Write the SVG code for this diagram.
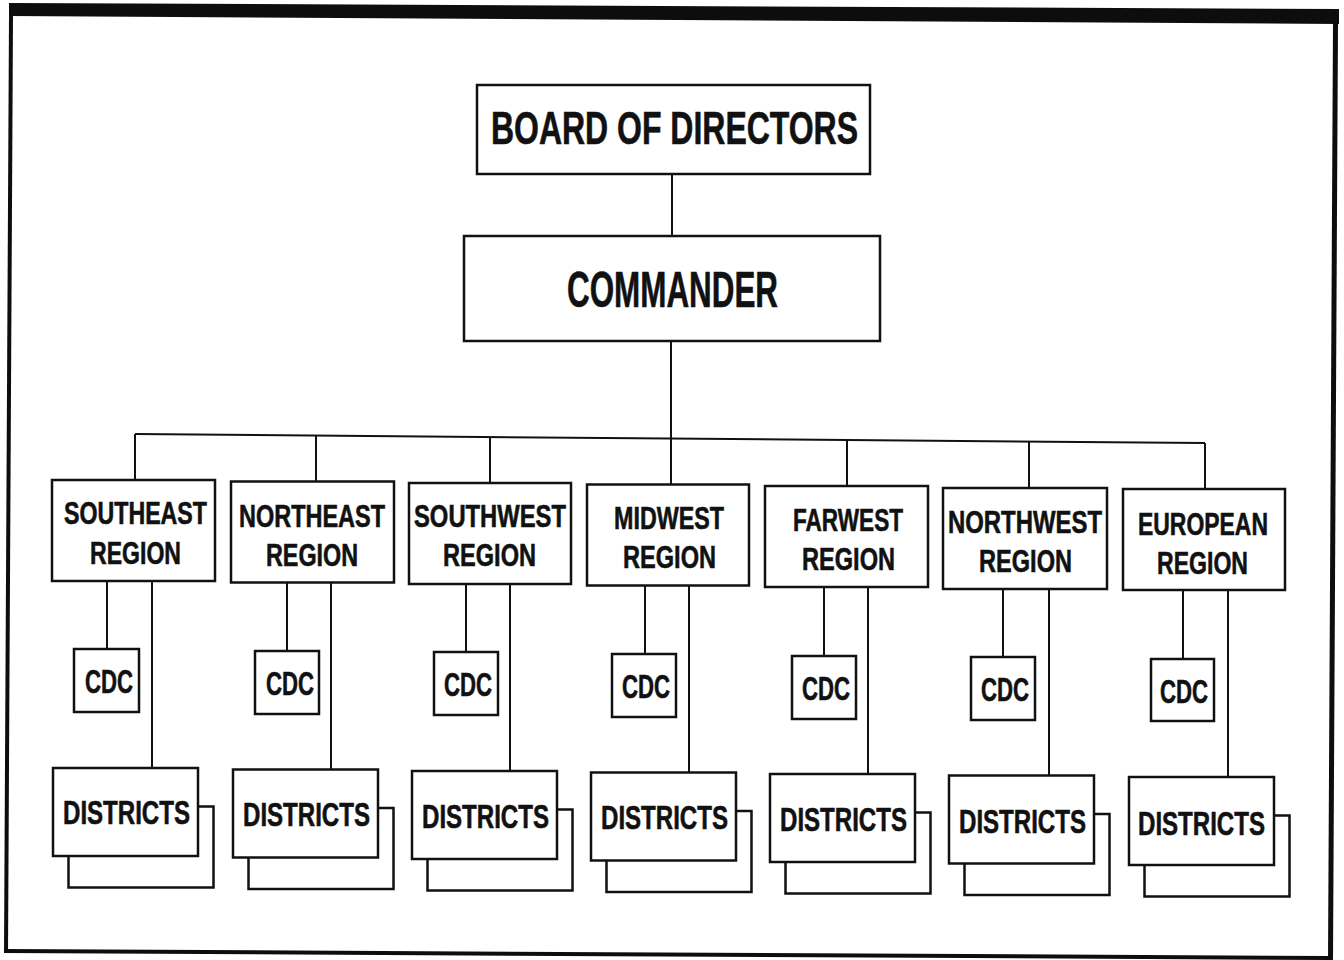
<svg xmlns="http://www.w3.org/2000/svg" width="1344" height="960" viewBox="0 0 1344 960">
<style>
.bx{fill:#fff;stroke:#111;stroke-width:2.5}
.ln{fill:none;stroke:#111;stroke-width:2}
.fr{fill:#0d0d0d}
text{font-family:"Liberation Sans",Arial,sans-serif;font-weight:bold;fill:#111;stroke:#111;stroke-width:0.6}
.big{font-size:46px}
.cmd{font-size:50px}
.rg{font-size:32px}
.cd{font-size:34px}
.ds{font-size:34px}
</style>
<rect width="1344" height="960" fill="#fff"/>
<g id="frame">
<polygon class="fr" points="9,3 1339,9 1339,24 9,16"/>
<polygon class="fr" points="9,16 13,16 8,953 4,953"/>
<polygon class="fr" points="1333,24 1338,24 1333,960 1328,960"/>
<polygon class="fr" points="4,949 1330,956 1330,960 4,953"/>
</g>
<g id="connectors">
<line class="ln" x1="672" y1="174" x2="672" y2="235"/>
<line class="ln" x1="671" y1="342" x2="671" y2="484.5"/>
<line class="ln" x1="135" y1="434" x2="1205" y2="443"/>
<line class="ln" x1="135" y1="434" x2="135" y2="480"/>
<line class="ln" x1="316" y1="435.5" x2="316" y2="481.5"/>
<line class="ln" x1="490" y1="437" x2="490" y2="483"/>
<line class="ln" x1="847" y1="440" x2="847" y2="486"/>
<line class="ln" x1="1029" y1="441.5" x2="1029" y2="488"/>
<line class="ln" x1="1205" y1="443" x2="1205" y2="489"/>
<line class="ln" x1="107" y1="581" x2="107" y2="649"/>
<line class="ln" x1="152" y1="581" x2="152" y2="768"/>
<line class="ln" x1="287" y1="582.5" x2="287" y2="651"/>
<line class="ln" x1="331" y1="582.5" x2="331" y2="769.5"/>
<line class="ln" x1="466" y1="584" x2="466" y2="652"/>
<line class="ln" x1="510" y1="584" x2="510" y2="771"/>
<line class="ln" x1="645" y1="585.5" x2="645" y2="654"/>
<line class="ln" x1="689" y1="585.5" x2="689" y2="772.5"/>
<line class="ln" x1="824" y1="587" x2="824" y2="656"/>
<line class="ln" x1="868" y1="587" x2="868" y2="774"/>
<line class="ln" x1="1003" y1="589" x2="1003" y2="657"/>
<line class="ln" x1="1049" y1="589" x2="1049" y2="776"/>
<line class="ln" x1="1183" y1="590" x2="1183" y2="659"/>
<line class="ln" x1="1228" y1="590" x2="1228" y2="777"/>
</g>
<g id="board">
<rect class="bx" x="477" y="85" width="393" height="89"/>
<text class="big" x="491" y="144" textLength="367" lengthAdjust="spacingAndGlyphs">BOARD OF DIRECTORS</text>
</g>
<g id="commander">
<rect class="bx" x="464" y="236" width="416" height="105"/>
<text class="cmd" x="567" y="307" textLength="211" lengthAdjust="spacingAndGlyphs">COMMANDER</text>
</g>
<g id="southeast">
<rect class="bx" x="52" y="480" width="163" height="101"/>
<text class="rg" x="64" y="524" textLength="143" lengthAdjust="spacingAndGlyphs">SOUTHEAST</text>
<text class="rg" x="90" y="564" textLength="91" lengthAdjust="spacingAndGlyphs">REGION</text>
</g>
<g id="northeast">
<rect class="bx" x="231" y="481.5" width="163" height="101"/>
<text class="rg" x="239" y="527" textLength="146" lengthAdjust="spacingAndGlyphs">NORTHEAST</text>
<text class="rg" x="266" y="566" textLength="92" lengthAdjust="spacingAndGlyphs">REGION</text>
</g>
<g id="southwest">
<rect class="bx" x="409" y="483" width="162" height="101"/>
<text class="rg" x="414" y="527" textLength="152" lengthAdjust="spacingAndGlyphs">SOUTHWEST</text>
<text class="rg" x="443" y="566" textLength="93" lengthAdjust="spacingAndGlyphs">REGION</text>
</g>
<g id="midwest">
<rect class="bx" x="587" y="484.5" width="162" height="101"/>
<text class="rg" x="614" y="529" textLength="110" lengthAdjust="spacingAndGlyphs">MIDWEST</text>
<text class="rg" x="623" y="568" textLength="93" lengthAdjust="spacingAndGlyphs">REGION</text>
</g>
<g id="farwest">
<rect class="bx" x="765" y="486" width="163" height="101"/>
<text class="rg" x="793" y="531" textLength="110" lengthAdjust="spacingAndGlyphs">FARWEST</text>
<text class="rg" x="802" y="570" textLength="93" lengthAdjust="spacingAndGlyphs">REGION</text>
</g>
<g id="northwest">
<rect class="bx" x="943" y="488" width="164" height="101"/>
<text class="rg" x="948" y="533" textLength="154" lengthAdjust="spacingAndGlyphs">NORTHWEST</text>
<text class="rg" x="979" y="572" textLength="93" lengthAdjust="spacingAndGlyphs">REGION</text>
</g>
<g id="european">
<rect class="bx" x="1123" y="489" width="162" height="101"/>
<text class="rg" x="1138" y="535" textLength="130" lengthAdjust="spacingAndGlyphs">EUROPEAN</text>
<text class="rg" x="1157" y="574" textLength="91" lengthAdjust="spacingAndGlyphs">REGION</text>
</g>
<g id="cdc-se"><rect class="bx" x="74" y="649" width="65" height="63"/><text class="cd" x="85" y="693" textLength="48" lengthAdjust="spacingAndGlyphs">CDC</text></g>
<g id="cdc-ne"><rect class="bx" x="255" y="651" width="64" height="63"/><text class="cd" x="266" y="695" textLength="48" lengthAdjust="spacingAndGlyphs">CDC</text></g>
<g id="cdc-sw"><rect class="bx" x="434" y="652" width="64" height="63"/><text class="cd" x="444" y="696" textLength="48" lengthAdjust="spacingAndGlyphs">CDC</text></g>
<g id="cdc-mw"><rect class="bx" x="612" y="654" width="64" height="63"/><text class="cd" x="622" y="698" textLength="48" lengthAdjust="spacingAndGlyphs">CDC</text></g>
<g id="cdc-fw"><rect class="bx" x="792" y="656" width="64" height="63"/><text class="cd" x="802" y="700" textLength="48" lengthAdjust="spacingAndGlyphs">CDC</text></g>
<g id="cdc-nw"><rect class="bx" x="971" y="657" width="64" height="63"/><text class="cd" x="981" y="701" textLength="48" lengthAdjust="spacingAndGlyphs">CDC</text></g>
<g id="cdc-eu"><rect class="bx" x="1151" y="659" width="63" height="62"/><text class="cd" x="1160" y="703" textLength="48" lengthAdjust="spacingAndGlyphs">CDC</text></g>
<g id="districts-se"><rect class="bx" x="68.5" y="806.5" width="145" height="81"/><rect class="bx" x="53" y="768" width="145" height="88"/><text class="ds" x="63" y="824" textLength="127" lengthAdjust="spacingAndGlyphs">DISTRICTS</text></g>
<g id="districts-ne"><rect class="bx" x="248.5" y="808" width="145" height="81"/><rect class="bx" x="233" y="769.5" width="145" height="88"/><text class="ds" x="243" y="826" textLength="127" lengthAdjust="spacingAndGlyphs">DISTRICTS</text></g>
<g id="districts-sw"><rect class="bx" x="427.5" y="809.5" width="145" height="81"/><rect class="bx" x="412" y="771" width="145" height="88"/><text class="ds" x="422" y="827.5" textLength="127" lengthAdjust="spacingAndGlyphs">DISTRICTS</text></g>
<g id="districts-mw"><rect class="bx" x="606.5" y="811" width="145" height="81"/><rect class="bx" x="591" y="772.5" width="145" height="88"/><text class="ds" x="601" y="829" textLength="127" lengthAdjust="spacingAndGlyphs">DISTRICTS</text></g>
<g id="districts-fw"><rect class="bx" x="785.5" y="812.5" width="145" height="81"/><rect class="bx" x="770" y="774" width="145" height="88"/><text class="ds" x="780" y="831" textLength="127" lengthAdjust="spacingAndGlyphs">DISTRICTS</text></g>
<g id="districts-nw"><rect class="bx" x="964.5" y="814" width="145" height="81"/><rect class="bx" x="949" y="775.5" width="145" height="88"/><text class="ds" x="959" y="833" textLength="127" lengthAdjust="spacingAndGlyphs">DISTRICTS</text></g>
<g id="districts-eu"><rect class="bx" x="1144.5" y="815.5" width="145" height="81"/><rect class="bx" x="1129" y="777" width="145" height="88"/><text class="ds" x="1138" y="834.5" textLength="127" lengthAdjust="spacingAndGlyphs">DISTRICTS</text></g>
</svg>
